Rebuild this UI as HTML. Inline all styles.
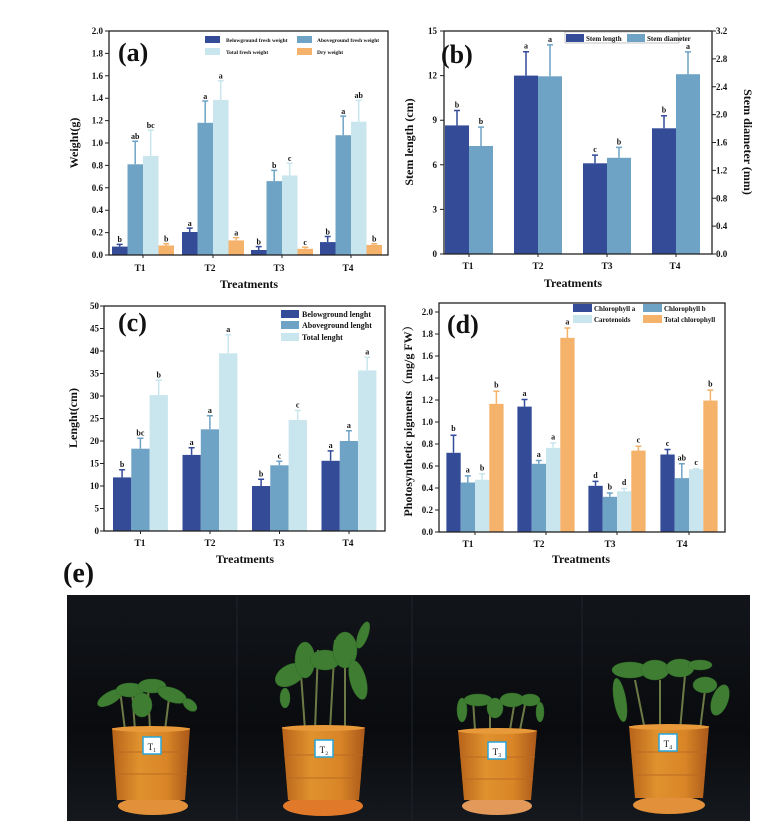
<!DOCTYPE html>
<html><head><meta charset="utf-8"><style>
html,body{margin:0;padding:0;background:#fff;}
svg{display:block;}
text{font-family:"Liberation Serif",serif;font-weight:bold;fill:#111;}
.t{font-size:9px;}
.l{font-size:8px;text-anchor:middle;}
.ax{font-size:12px;text-anchor:middle;}
.tk{font-size:9px;text-anchor:end;}
.g{font-size:9.5px;text-anchor:middle;}
.c1{fill:#344b98;} .c2{fill:#6fa3c6;} .c3{fill:#c9e6ef;} .c4{fill:#f4b26a;}
.e1{stroke:#344b98;fill:none;stroke-width:1.5} .e2{stroke:#6fa3c6;fill:none;stroke-width:1.5} .e3{stroke:#c9e6ef;fill:none;stroke-width:1.5} .e4{stroke:#f4b26a;fill:none;stroke-width:1.5}
.fr{fill:none;stroke:#222;stroke-width:1.3}
.tkl{stroke:#222;stroke-width:1}
</style></head><body>
<svg width="779" height="834" viewBox="0 0 779 834" xmlns="http://www.w3.org/2000/svg">
<!-- ===== (a) ===== -->
<g>
<rect class="c1" x="112" y="246.6" width="15.5" height="8.4"/><path class="e1" d="M119.7 246.6V244.4M116.7 244.4h6"/>
<rect class="c2" x="127.5" y="164.3" width="15.5" height="90.7"/><path class="e2" d="M135.2 164.3V141.3M132.2 141.3h6"/>
<rect class="c3" x="143" y="155.9" width="15.5" height="99.1"/><path class="e3" d="M150.7 155.9V130.1M147.7 130.1h6"/>
<rect class="c4" x="158.5" y="245.5" width="15.5" height="9.5"/><path class="e4" d="M166.2 245.5V243.8M163.2 243.8h6"/>
<rect class="c1" x="182" y="232" width="15.5" height="23"/><path class="e1" d="M189.7 232V228.1M186.7 228.1h6"/>
<rect class="c2" x="197.5" y="122.8" width="15.5" height="132.2"/><path class="e2" d="M205.2 122.8V101M202.2 101h6"/>
<rect class="c3" x="213" y="99.9" width="15.5" height="155.1"/><path class="e3" d="M220.7 99.9V80.8M217.7 80.8h6"/>
<rect class="c4" x="228.5" y="240.4" width="15.5" height="14.6"/><path class="e4" d="M236.2 240.4V237.6M233.2 237.6h6"/>
<rect class="c1" x="251" y="250" width="15.5" height="5"/><path class="e1" d="M258.7 250V246.6M255.7 246.6h6"/>
<rect class="c2" x="266.5" y="181.1" width="15.5" height="73.9"/><path class="e2" d="M274.2 181.1V170.4M271.2 170.4h6"/>
<rect class="c3" x="282" y="175.5" width="15.5" height="79.5"/><path class="e3" d="M289.7 175.5V163.2M286.7 163.2h6"/>
<rect class="c4" x="297.5" y="248.8" width="15.5" height="6.2"/><path class="e4" d="M305.2 248.8V247.2M302.2 247.2h6"/>
<rect class="c1" x="320" y="242.1" width="15.5" height="12.9"/><path class="e1" d="M327.7 242.1V236.5M324.7 236.5h6"/>
<rect class="c2" x="335.5" y="135.2" width="15.5" height="119.8"/><path class="e2" d="M343.2 135.2V116.1M340.2 116.1h6"/>
<rect class="c3" x="351" y="121.7" width="15.5" height="133.3"/><path class="e3" d="M358.7 121.7V100.4M355.7 100.4h6"/>
<rect class="c4" x="366.5" y="244.9" width="15.5" height="10.1"/><path class="e4" d="M374.2 244.9V243.8M371.2 243.8h6"/>
<g class="l">
<text x="119.7" y="242">b</text><text x="135.2" y="139">ab</text><text x="150.7" y="128">bc</text><text x="166.2" y="241.5">b</text>
<text x="189.7" y="226">a</text><text x="205.2" y="99">a</text><text x="220.7" y="78.5">a</text><text x="236.2" y="235.5">a</text>
<text x="258.7" y="244.5">b</text><text x="274.2" y="168">b</text><text x="289.7" y="161">c</text><text x="305.2" y="245">c</text>
<text x="327.7" y="234.5">b</text><text x="343.2" y="114">a</text><text x="358.7" y="98">ab</text><text x="374.2" y="241.5">b</text>
</g>
<rect class="fr" x="109" y="31" width="279" height="224"/>
<path class="tkl" d="M109 255h-4M109 232.6h-4M109 210.2h-4M109 187.8h-4M109 165.4h-4M109 143h-4M109 120.6h-4M109 98.2h-4M109 75.8h-4M109 53.4h-4M109 31h-4M143 255v3M213 255v3M282 255v3M351 255v3"/>
<g class="tk">
<text x="103" y="258">0.0</text><text x="103" y="235.6">0.2</text><text x="103" y="213.2">0.4</text><text x="103" y="190.8">0.6</text><text x="103" y="168.4">0.8</text><text x="103" y="146">1.0</text><text x="103" y="123.6">1.2</text><text x="103" y="101.2">1.4</text><text x="103" y="78.8">1.6</text><text x="103" y="56.4">1.8</text><text x="103" y="34">2.0</text>
</g>
<g class="g"><text x="140" y="271">T1</text><text x="210" y="271">T2</text><text x="279" y="271">T3</text><text x="348" y="271">T4</text></g>
<text class="ax" x="249" y="288">Treatments</text>
<text class="ax" transform="translate(78 143) rotate(-90)">Weight(g)</text>
<text x="118" y="61" style="font-size:26px">(a)</text>
<rect class="c1" x="205" y="36" width="15" height="7"/><text x="226" y="42" style="font-size:5.5px">Belowground fresh weight</text>
<rect class="c2" x="297" y="36" width="15" height="7"/><text x="317" y="42" style="font-size:5.5px">Aboveground fresh weight</text>
<rect class="c3" x="205" y="48" width="15" height="7"/><text x="226" y="54" style="font-size:5.5px">Total fresh weight</text>
<rect class="c4" x="297" y="48" width="15" height="7"/><text x="317" y="54" style="font-size:5.5px">Dry weight</text>
</g>
<!-- ===== (b) ===== -->
<g>
<rect class="c1" x="445" y="125.4" width="24" height="128.6"/><path class="e1" d="M457 125.4V110.5M454 110.5h6"/>
<rect class="c2" x="469" y="146" width="24" height="108"/><path class="e2" d="M481 146V127.1M478 127.1h6"/>
<rect class="c1" x="514" y="75.6" width="24" height="178.4"/><path class="e1" d="M526 75.6V51.8M523 51.8h6"/>
<rect class="c2" x="538" y="76.3" width="24" height="177.7"/><path class="e2" d="M550 76.3V44.9M547 44.9h6"/>
<rect class="c1" x="583" y="163.3" width="24" height="90.7"/><path class="e1" d="M595 163.3V155.1M592 155.1h6"/>
<rect class="c2" x="607" y="157.8" width="24" height="96.2"/><path class="e2" d="M619 157.8V147.4M616 147.4h6"/>
<rect class="c1" x="652" y="128.3" width="24" height="125.7"/><path class="e1" d="M664 128.3V115.7M661 115.7h6"/>
<rect class="c2" x="676" y="74.2" width="24" height="179.8"/><path class="e2" d="M688 74.2V51.9M685 51.9h6"/>
<g class="l">
<text x="457" y="107.5">b</text><text x="481" y="124">b</text><text x="526" y="48.5">a</text><text x="550" y="42">a</text>
<text x="595" y="152">c</text><text x="619" y="144.5">b</text><text x="664" y="112.5">b</text><text x="688" y="49">a</text>
</g>
<rect class="fr" x="444" y="31" width="268" height="223"/>
<path class="tkl" d="M444 254h-4M444 209.4h-4M444 164.8h-4M444 120.2h-4M444 75.6h-4M444 31h-4M712 254h4M712 226.1h4M712 198.3h4M712 170.4h4M712 142.5h4M712 114.6h4M712 86.8h4M712 58.9h4M712 31h4M469 254v3M538 254v3M607 254v3M676 254v3"/>
<g class="tk">
<text x="437" y="257">0</text><text x="437" y="212.4">3</text><text x="437" y="167.8">6</text><text x="437" y="123.2">9</text><text x="437" y="78.6">12</text><text x="437" y="34">15</text>
</g>
<g class="t">
<text x="716" y="257">0.0</text><text x="716" y="229.1">0.4</text><text x="716" y="201.3">0.8</text><text x="716" y="173.4">1.2</text><text x="716" y="145.5">1.6</text><text x="716" y="117.6">2.0</text><text x="716" y="89.8">2.4</text><text x="716" y="61.9">2.8</text><text x="716" y="34">3.2</text>
</g>
<g class="g"><text x="468" y="269">T1</text><text x="538" y="269">T2</text><text x="607" y="269">T3</text><text x="675" y="269">T4</text></g>
<text class="ax" x="573" y="287">Treatments</text>
<text class="ax" transform="translate(413 142) rotate(-90)">Stem length (cm)</text>
<text class="ax" transform="translate(744 142) rotate(90)">Stem diameter (mm)</text>
<text x="441" y="63" style="font-size:26px">(b)</text>
<rect x="565" y="32" width="114" height="11" fill="#fff" stroke="#888" stroke-width="0.5"/>
<rect class="c1" x="566" y="34" width="18" height="8"/><text x="586" y="41" style="font-size:7px">Stem length</text>
<rect class="c2" x="627" y="34" width="18" height="8"/><text x="647" y="41" style="font-size:7px">Stem diameter</text>
</g>
<!-- ===== (c) ===== -->
<g>
<rect class="c1" x="113" y="477.4" width="18.3" height="53.6"/><path class="e1" d="M122.1 477.4V469.8M119.1 469.8h6"/>
<rect class="c2" x="131.3" y="448.7" width="18.3" height="82.3"/><path class="e2" d="M140.4 448.7V438.3M137.4 438.3h6"/>
<rect class="c3" x="149.6" y="395.1" width="18.3" height="135.9"/><path class="e3" d="M158.7 395.1V380.3M155.7 380.3h6"/>
<rect class="c1" x="182.5" y="454.9" width="18.3" height="76.1"/><path class="e1" d="M191.6 454.9V447.8M188.6 447.8h6"/>
<rect class="c2" x="200.8" y="429.3" width="18.3" height="101.7"/><path class="e2" d="M209.9 429.3V415.8M206.9 415.8h6"/>
<rect class="c3" x="219.1" y="353.3" width="18.3" height="177.7"/><path class="e3" d="M228.2 353.3V334.8M225.2 334.8h6"/>
<rect class="c1" x="252" y="486" width="18.3" height="45"/><path class="e1" d="M261.1 486V479.3M258.1 479.3h6"/>
<rect class="c2" x="270.3" y="465.3" width="18.3" height="65.7"/><path class="e2" d="M279.4 465.3V461.3M276.4 461.3h6"/>
<rect class="c3" x="288.6" y="419.9" width="18.3" height="111.1"/><path class="e3" d="M297.7 419.9V410.4M294.7 410.4h6"/>
<rect class="c1" x="321.5" y="460.8" width="18.3" height="70.2"/><path class="e1" d="M330.6 460.8V450.9M327.6 450.9h6"/>
<rect class="c2" x="339.8" y="441" width="18.3" height="90"/><path class="e2" d="M348.9 441V430.7M345.9 430.7h6"/>
<rect class="c3" x="358.1" y="370.4" width="18.3" height="160.6"/><path class="e3" d="M367.2 370.4V357.3M364.2 357.3h6"/>
<g class="l">
<text x="122.1" y="467">b</text><text x="140.4" y="435.5">bc</text><text x="158.7" y="377.5">b</text>
<text x="191.6" y="445">a</text><text x="209.9" y="413">a</text><text x="228.2" y="332">a</text>
<text x="261.1" y="476.5">b</text><text x="279.4" y="458.5">c</text><text x="297.7" y="407.5">c</text>
<text x="330.6" y="448">a</text><text x="348.9" y="428">a</text><text x="367.2" y="354.5">a</text>
</g>
<rect class="fr" x="104" y="306" width="281" height="225"/>
<path class="tkl" d="M104 531h-4M104 508.5h-4M104 486h-4M104 463.5h-4M104 441h-4M104 418.5h-4M104 396h-4M104 373.5h-4M104 351h-4M104 328.5h-4M104 306h-4M140.5 531v3M210 531v3M279.5 531v3M349 531v3"/>
<g class="tk">
<text x="99" y="534">0</text><text x="99" y="511.5">5</text><text x="99" y="489">10</text><text x="99" y="466.5">15</text><text x="99" y="444">20</text><text x="99" y="421.5">25</text><text x="99" y="399">30</text><text x="99" y="376.5">35</text><text x="99" y="354">40</text><text x="99" y="331.5">45</text><text x="99" y="309">50</text>
</g>
<g class="g"><text x="140" y="546">T1</text><text x="210" y="546">T2</text><text x="279" y="546">T3</text><text x="348" y="546">T4</text></g>
<text class="ax" x="245" y="563">Treatments</text>
<text class="ax" transform="translate(77 418) rotate(-90)">Lenght(cm)</text>
<text x="118" y="331" style="font-size:26px">(c)</text>
<rect class="c1" x="281" y="310" width="18" height="8"/><text x="302" y="317" style="font-size:8px">Belowground lenght</text>
<rect class="c2" x="281" y="321" width="18" height="8"/><text x="302" y="328" style="font-size:8px">Aboveground lenght</text>
<rect class="c3" x="281" y="333" width="18" height="8"/><text x="302" y="340" style="font-size:8px">Total lenght</text>
</g>
<!-- ===== (d) ===== -->
<g>
<rect class="c1" x="446.4" y="452.8" width="14.3" height="79.2"/><path class="e1" d="M453.5 452.8V435.2M450.5 435.2h6"/>
<rect class="c2" x="460.7" y="482.5" width="14.3" height="49.5"/><path class="e2" d="M467.8 482.5V475.9M464.8 475.9h6"/>
<rect class="c3" x="475" y="479.75" width="14.3" height="52.25"/><path class="e3" d="M482.1 479.75V473.7M479.1 473.7h6"/>
<rect class="c4" x="489.3" y="403.85" width="14.3" height="128.15"/><path class="e4" d="M496.4 403.85V391.2M493.4 391.2h6"/>
<rect class="c1" x="517.4" y="406.6" width="14.3" height="125.4"/><path class="e1" d="M524.5 406.6V399.5M521.5 399.5h6"/>
<rect class="c2" x="531.7" y="463.8" width="14.3" height="68.2"/><path class="e2" d="M538.8 463.8V460.5M535.8 460.5h6"/>
<rect class="c3" x="546" y="447.85" width="14.3" height="84.15"/><path class="e3" d="M553.1 447.85V442.9M550.1 442.9h6"/>
<rect class="c4" x="560.3" y="337.85" width="14.3" height="194.15"/><path class="e4" d="M567.4 337.85V327.95M564.4 327.95h6"/>
<rect class="c1" x="588.4" y="485.8" width="14.3" height="46.2"/><path class="e1" d="M595.5 485.8V481.4M592.5 481.4h6"/>
<rect class="c2" x="602.7" y="496.8" width="14.3" height="35.2"/><path class="e2" d="M609.8 496.8V493M606.8 493h6"/>
<rect class="c3" x="617" y="491.3" width="14.3" height="40.7"/><path class="e3" d="M624.1 491.3V488.55M621.1 488.55h6"/>
<rect class="c4" x="631.3" y="450.6" width="14.3" height="81.4"/><path class="e4" d="M638.4 450.6V446.2M635.4 446.2h6"/>
<rect class="c1" x="660.4" y="454.5" width="14.3" height="77.5"/><path class="e1" d="M667.5 454.5V449.5M664.5 449.5h6"/>
<rect class="c2" x="674.7" y="478.1" width="14.3" height="53.9"/><path class="e2" d="M681.8 478.1V463.8M678.8 463.8h6"/>
<rect class="c3" x="689" y="469.3" width="14.3" height="62.7"/><path class="e3" d="M696.1 469.3V468.75M693.1 468.75h6"/>
<rect class="c4" x="703.3" y="400.55" width="14.3" height="131.45"/><path class="e4" d="M710.4 400.55V390.1M707.4 390.1h6"/>
<g class="l">
<text x="453.5" y="431">b</text><text x="467.8" y="472.5">a</text><text x="482.1" y="470.5">b</text><text x="496.4" y="387.5">b</text>
<text x="524.5" y="396">a</text><text x="538.8" y="457">a</text><text x="553.1" y="439.5">a</text><text x="567.4" y="324.5">a</text>
<text x="595.5" y="478">d</text><text x="609.8" y="489.5">b</text><text x="624.1" y="485">d</text><text x="638.4" y="442.5">c</text>
<text x="667.5" y="446">c</text><text x="681.8" y="460.5">ab</text><text x="696.1" y="465">c</text><text x="710.4" y="386.5">b</text>
</g>
<rect class="fr" x="439" y="303" width="286" height="229"/>
<path class="tkl" d="M439 532h-4M439 510h-4M439 488h-4M439 466h-4M439 444h-4M439 422h-4M439 400h-4M439 378h-4M439 356h-4M439 334h-4M439 312h-4M475 532v3M546 532v3M617 532v3M689 532v3"/>
<g class="tk">
<text x="433" y="535">0.0</text><text x="433" y="513">0.2</text><text x="433" y="491">0.4</text><text x="433" y="469">0.6</text><text x="433" y="447">0.8</text><text x="433" y="425">1.0</text><text x="433" y="403">1.2</text><text x="433" y="381">1.4</text><text x="433" y="359">1.6</text><text x="433" y="337">1.8</text><text x="433" y="315">2.0</text>
</g>
<g class="g"><text x="468" y="547">T1</text><text x="539" y="547">T2</text><text x="610" y="547">T3</text><text x="682" y="547">T4</text></g>
<text class="ax" x="581" y="563">Treatments</text>
<text class="ax" style="font-family:'Liberation Serif','Noto Serif CJK SC',serif" transform="translate(412 418) rotate(-90)">Photosynthetic pigments（mg/g FW）</text>
<text x="447" y="333" style="font-size:26px">(d)</text>
<rect class="c1" x="573" y="304" width="19" height="8"/><text x="594" y="311" style="font-size:7px">Chlorophyll a</text>
<rect class="c2" x="643" y="304" width="19" height="8"/><text x="664" y="311" style="font-size:7px">Chlorophyll b</text>
<rect class="c3" x="573" y="315" width="19" height="8"/><text x="594" y="322" style="font-size:7px">Carotenoids</text>
<rect class="c4" x="643" y="315" width="19" height="8"/><text x="664" y="322" style="font-size:7px">Total chlorophyll</text>
</g>
<!-- ===== (e) photo ===== -->
<text x="63" y="582" style="font-size:28px">(e)</text>
<defs>
<linearGradient id="pot" x1="0" x2="1" y1="0" y2="0">
<stop offset="0" stop-color="#b8631a"/><stop offset="0.35" stop-color="#e0922e"/><stop offset="0.7" stop-color="#d98527"/><stop offset="1" stop-color="#a9581a"/>
</linearGradient>
<linearGradient id="bg" x1="0" x2="0" y1="0" y2="1">
<stop offset="0" stop-color="#12151a"/><stop offset="0.6" stop-color="#090b0e"/><stop offset="1" stop-color="#15181d"/>
</linearGradient>
</defs>
<rect x="67" y="595" width="683" height="226" fill="url(#bg)"/>
<path d="M237 595V821M412 595V821M582 595V821" stroke="#20242a" stroke-width="1"/>
<!-- plants -->
<g fill="#3f7d33" stroke="#2f6a26" stroke-width="0.5">
<path d="M125 730L120 690M135 730L132 690M150 730L148 688M165 730L170 690" stroke="#6d7a45" stroke-width="2"/>
<ellipse cx="110" cy="698" rx="14" ry="6" transform="rotate(-30 110 698)"/><ellipse cx="130" cy="690" rx="14" ry="7"/><ellipse cx="152" cy="686" rx="14" ry="7"/><ellipse cx="172" cy="695" rx="15" ry="7" transform="rotate(20 172 695)"/><ellipse cx="190" cy="705" rx="8" ry="5" transform="rotate(40 190 705)"/><ellipse cx="142" cy="705" rx="10" ry="12"/>
<path d="M305 730L300 660M315 730L318 650M330 730L335 640M345 730L345 660" stroke="#6d7a45" stroke-width="2"/>
<ellipse cx="290" cy="675" rx="16" ry="10" transform="rotate(-30 290 675)"/><ellipse cx="305" cy="660" rx="10" ry="18"/><ellipse cx="325" cy="660" rx="15" ry="10"/><ellipse cx="345" cy="650" rx="12" ry="18"/><ellipse cx="358" cy="680" rx="8" ry="20" transform="rotate(-15 358 680)"/><ellipse cx="363" cy="635" rx="5" ry="14" transform="rotate(20 363 635)"/><ellipse cx="285" cy="698" rx="5" ry="10"/>
<path d="M475 730L473 700M490 730L490 700M510 730L515 700M520 730L525 705" stroke="#6d7a45" stroke-width="2"/>
<ellipse cx="462" cy="710" rx="5" ry="12"/><ellipse cx="478" cy="700" rx="14" ry="6"/><ellipse cx="495" cy="708" rx="8" ry="10"/><ellipse cx="512" cy="700" rx="12" ry="7"/><ellipse cx="530" cy="700" rx="10" ry="6"/><ellipse cx="540" cy="712" rx="4" ry="10"/>
<path d="M645 730L635 680M660 730L660 680M680 730L685 675M700 730L705 690" stroke="#6d7a45" stroke-width="2"/>
<ellipse cx="620" cy="700" rx="6" ry="22" transform="rotate(-10 620 700)"/><ellipse cx="630" cy="670" rx="18" ry="8"/><ellipse cx="655" cy="670" rx="14" ry="10"/><ellipse cx="680" cy="668" rx="14" ry="9"/><ellipse cx="705" cy="685" rx="12" ry="8"/><ellipse cx="720" cy="700" rx="8" ry="16" transform="rotate(20 720 700)"/><ellipse cx="700" cy="665" rx="12" ry="5"/>
</g>
<!-- pots -->
<g>
<ellipse cx="153" cy="806" rx="35" ry="9" fill="#e2913a"/>
<path d="M112 728H190L185 800H117Z" fill="url(#pot)"/>
<ellipse cx="151" cy="729" rx="39" ry="3" fill="#e89a3a"/>
<path d="M114 752H188M115 774H187" stroke="#b86a22" stroke-width="1.5" opacity="0.6"/>
<rect x="143" y="737" width="18" height="17" fill="#fff" stroke="#29a5d8" stroke-width="1.5"/><text x="152" y="750" style="font-size:9px;text-anchor:middle;font-weight:normal">T₁</text>
<ellipse cx="323" cy="806" rx="40" ry="10" fill="#e0792a"/>
<path d="M282 727H365L359 800H288Z" fill="url(#pot)"/>
<ellipse cx="323" cy="728" rx="41" ry="3" fill="#e89a3a"/>
<path d="M284 755H363M286 778H361" stroke="#b86a22" stroke-width="1.5" opacity="0.6"/>
<rect x="315" y="740" width="18" height="17" fill="#fff" stroke="#29a5d8" stroke-width="1.5"/><text x="324" y="753" style="font-size:9px;text-anchor:middle;font-weight:normal">T₂</text>
<ellipse cx="497" cy="806" rx="35" ry="9" fill="#e2995a"/>
<path d="M458 730H537L531 800H464Z" fill="url(#pot)"/>
<ellipse cx="497" cy="731" rx="39" ry="3" fill="#e89a3a"/>
<path d="M460 757H535M462 779H533" stroke="#b86a22" stroke-width="1.5" opacity="0.6"/>
<rect x="488" y="742" width="18" height="17" fill="#fff" stroke="#29a5d8" stroke-width="1.5"/><text x="497" y="755" style="font-size:9px;text-anchor:middle;font-weight:normal">T₃</text>
<ellipse cx="669" cy="805" rx="36" ry="9" fill="#e2913a"/>
<path d="M629 726H709L703 798H635Z" fill="url(#pot)"/>
<ellipse cx="669" cy="727" rx="40" ry="3" fill="#e89a3a"/>
<path d="M631 752H707M633 775H705" stroke="#b86a22" stroke-width="1.5" opacity="0.6"/>
<rect x="659" y="734" width="18" height="17" fill="#fff" stroke="#29a5d8" stroke-width="1.5"/><text x="668" y="747" style="font-size:9px;text-anchor:middle;font-weight:normal">T₄</text>
</g>
</svg>
</body></html>
